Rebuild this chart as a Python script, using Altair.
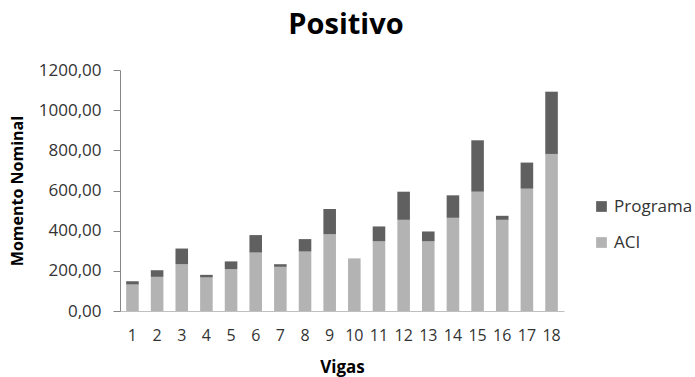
import altair as alt
import pandas as pd

vigas = [str(i) for i in range(1, 19)]
aci = [132, 170, 233, 167, 208, 291, 220, 296, 383, 262, 348, 454, 348, 464, 594, 454, 609, 782]
total = [148, 203, 311, 180, 247, 378, 233, 358, 508, 262, 421, 594, 396, 576, 850, 474, 739, 1092]
programa = [t - a for t, a in zip(total, aci)]

rows = []
for v, a, p in zip(vigas, aci, programa):
    rows.append({"Vigas": v, "Serie": "ACI", "Valor": a, "ord": 0})
    rows.append({"Vigas": v, "Serie": "Programa", "Valor": p, "ord": 1})
df = pd.DataFrame(rows)

FONT = "Open Sans"

chart = alt.Chart(df).mark_bar().encode(
    x=alt.X("Vigas:N", sort=vigas, title="Vigas",
            scale=alt.Scale(paddingInner=0.49, paddingOuter=0.25),
            axis=alt.Axis(labelAngle=0, ticks=False, labelFontSize=16, labelColor="#333333",
                          titleFontSize=17, titleFontWeight="bold", titleColor="#000000",
                          domainColor="#bfbfbf", labelPadding=16, titlePadding=16, labelFont=FONT, titleFont=FONT)),
    y=alt.Y("Valor:Q", stack="zero", title="Momento Nominal",
            scale=alt.Scale(domain=[0, 1200]),
            axis=alt.Axis(values=[0, 200, 400, 600, 800, 1000, 1200], grid=False,
                          labelExpr="replace(format(datum.value, '.2f'), '.', ',')",
                          labelFontSize=17, labelColor="#333333", tickColor="#868686", tickSize=7,
                          domainColor="#868686", labelPadding=12,
                          titleFontSize=16, titleFontWeight="bold", titleColor="#000000", titlePadding=13,
                          labelFont=FONT, titleFont=FONT)),
    color=alt.Color("Serie:N", scale=alt.Scale(domain=["Programa", "ACI"], range=["#606060", "#b3b3b3"]),
                    legend=alt.Legend(title=None, orient="none", legendX=473, legendY=128,
                                      symbolType="square", symbolSize=115, symbolStrokeWidth=0,
                                      labelFontSize=17, labelFont=FONT, labelColor="#333333",
                                      rowPadding=18)),
    order=alt.Order("ord:Q")
).properties(
    width=444, height=241,
    title=alt.TitleParams("Positivo", fontSize=29, fontWeight="bold", font=FONT, color="#000000",
                          anchor="middle", offset=21, dx=4),
    autosize=alt.AutoSizeParams(type="none"),
    padding={"left": 120, "top": 70, "right": 131, "bottom": 66}
).configure_view(stroke=None)

chart.save("out.html", embed_options={"renderer": "svg", "actions": False})
